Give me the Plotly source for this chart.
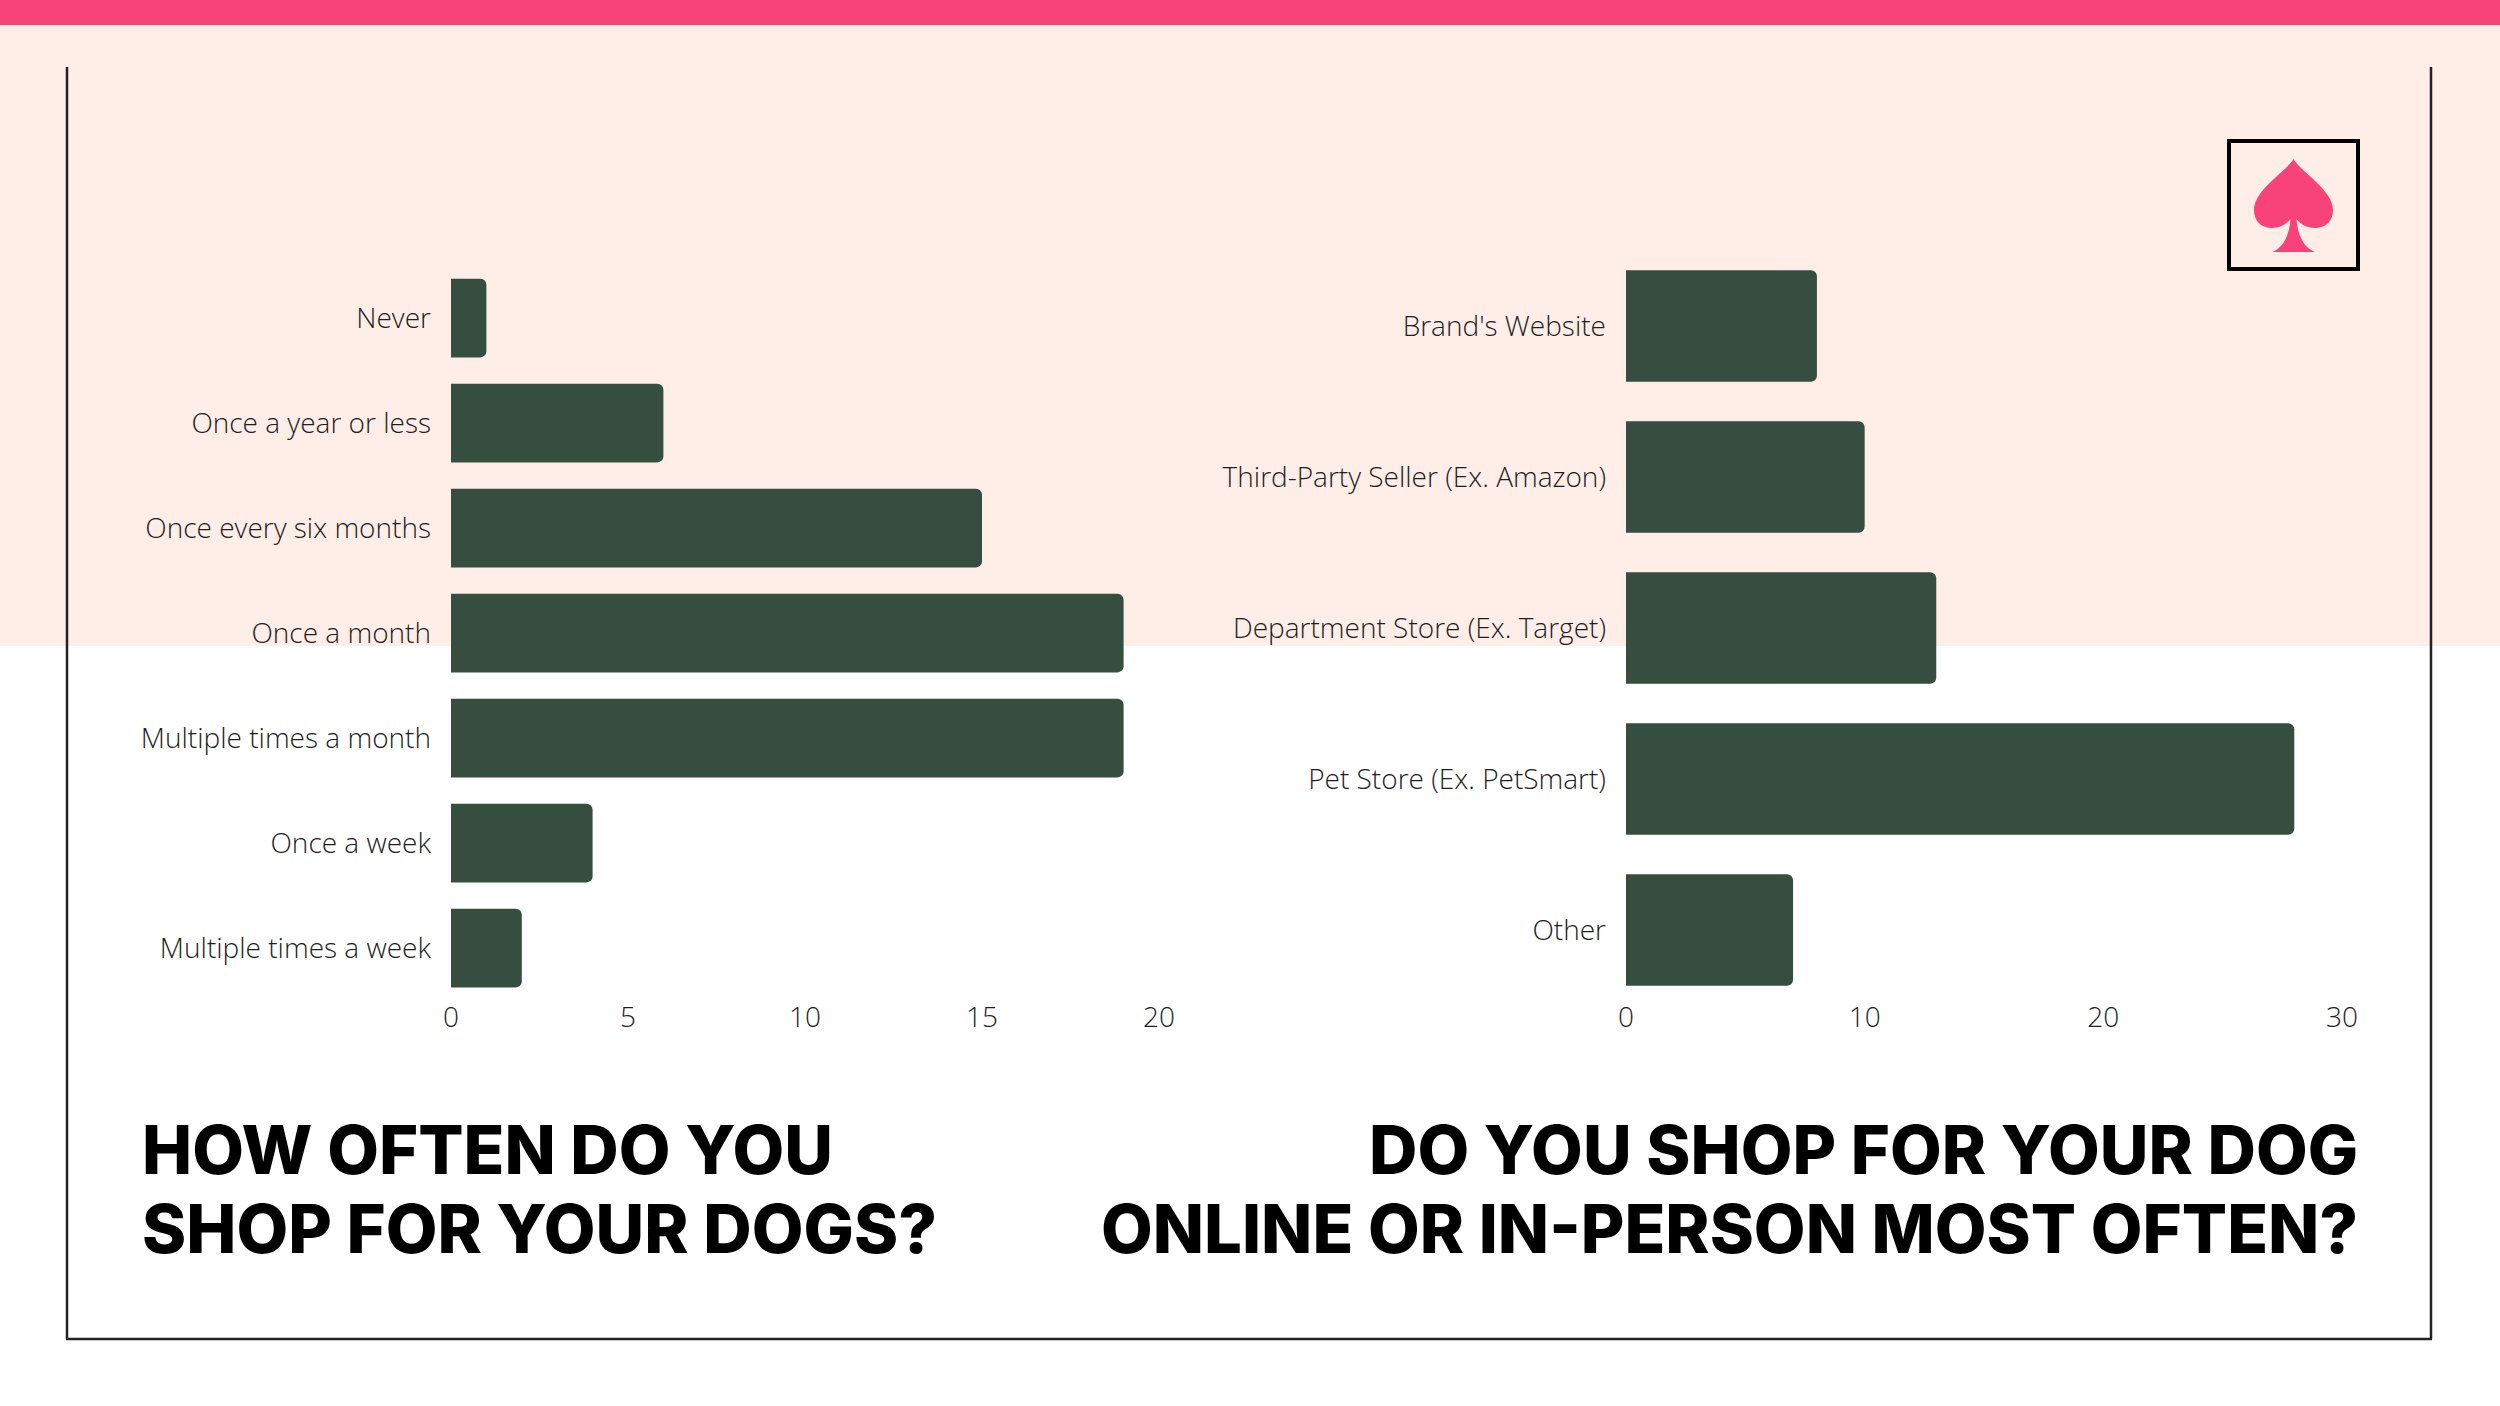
import plotly.graph_objects as go

W, H = 2500, 1406

# ---- data ----
freq_categories = ["Never", "Once a year or less", "Once every six months", "Once a month",
                   "Multiple times a month", "Once a week", "Multiple times a week"]
freq_values = [1, 6, 15, 19, 19, 4, 2]
freq_ticks = [0, 5, 10, 15, 20]

channel_categories = ["Brand's Website", "Third-Party Seller (Ex. Amazon)",
                      "Department Store (Ex. Target)", "Pet Store (Ex. PetSmart)", "Other"]
channel_values = [8, 10, 13, 28, 7]
channel_ticks = [0, 10, 20, 30]

title_left = ["HOW OFTEN DO YOU", "SHOP FOR YOUR DOGS?"]
title_right = ["DO YOU SHOP FOR YOUR DOG", "ONLINE OR IN-PERSON MOST OFTEN?"]

# ---- style ----
BAR = "#364E40"
PINK = "#F8437A"
PEACH = "#FFEEE8"
TXT = "#1e1e1e"
LABEL_FONT = dict(family="Open Sans", size=28, color=TXT, weight=300)
TICK_FONT = dict(family="Open Sans", size=28, color=TXT, weight=300)
TITLE_FONT = dict(family="Inter", size=67, color="#000000", weight=800)


def px(x):
    return x / W


def py(y):
    return 1 - y / H


fig = go.Figure()
fig.add_trace(go.Bar(x=freq_values, y=freq_categories, orientation="h",
                     marker=dict(color=BAR, line=dict(width=0)), width=0.75,
                     xaxis="x", yaxis="y", hoverinfo="x+y"))
fig.add_trace(go.Bar(x=channel_values, y=channel_categories, orientation="h",
                     marker=dict(color=BAR, line=dict(width=0)), width=0.74,
                     xaxis="x2", yaxis="y2", hoverinfo="x+y"))

axis_common = dict(showgrid=False, zeroline=False, showline=False, ticks="",
                   automargin=False, fixedrange=True)

shapes = [
    dict(type="rect", xref="paper", yref="paper", x0=0, x1=1, y0=py(646), y1=py(25),
         fillcolor=PEACH, line=dict(width=0), layer="below"),
    dict(type="rect", xref="paper", yref="paper", x0=0, x1=1, y0=py(25), y1=1,
         fillcolor=PINK, line=dict(width=0), layer="below"),
    # frame
    dict(type="line", xref="paper", yref="paper", x0=px(67), x1=px(67), y0=py(67), y1=py(1339),
         line=dict(color="#222222", width=2.5)),
    dict(type="line", xref="paper", yref="paper", x0=px(2431), x1=px(2431), y0=py(67), y1=py(1339),
         line=dict(color="#222222", width=2.5)),
    dict(type="line", xref="paper", yref="paper", x0=px(66), x1=px(2432), y0=py(1339), y1=py(1339),
         line=dict(color="#222222", width=2.5)),
    # logo box
    dict(type="rect", xref="paper", yref="paper", x0=px(2229), x1=px(2358), y0=py(269), y1=py(141),
         line=dict(color="#000000", width=4), fillcolor="rgba(0,0,0,0)"),
]

# spade path (pixel coords -> paper)
spade = [
    ("M", [(2293.5, 159)]),
    ("C", [(2285, 173), (2254, 190), (2254, 210)]),
    ("C", [(2254, 222), (2262, 228), (2272, 228)]),
    ("C", [(2280, 228), (2287, 224), (2290.5, 219)]),
    ("C", [(2289.5, 235), (2283, 248), (2272, 252)]),
    ("L", [(2315, 252)]),
    ("C", [(2304, 248), (2297.5, 235), (2296.5, 219)]),
    ("C", [(2300, 224), (2307, 228), (2315, 228)]),
    ("C", [(2325, 228), (2333, 222), (2333, 210)]),
    ("C", [(2333, 190), (2302, 173), (2293.5, 159)]),
]
path = ""
for cmd, pts in spade:
    path += cmd + " " + " ".join(f"{px(x):.6f},{py(y):.6f}" for x, y in pts) + " "
path += "Z"
shapes.append(dict(type="path", xref="paper", yref="paper", path=path,
                   fillcolor=PINK, line=dict(width=0)))

annotations = []
for t, yc in zip(title_left, [1149, 1228]):
    annotations.append(dict(text=t, xref="paper", yref="paper", x=px(140), y=py(yc),
                            xanchor="left", yanchor="middle", showarrow=False, font=TITLE_FONT))
for t, yc in zip(title_right, [1149, 1228]):
    annotations.append(dict(text=t, xref="paper", yref="paper", x=px(2360), y=py(yc),
                            xanchor="right", yanchor="middle", showarrow=False, font=TITLE_FONT))

fig.update_layout(
    width=W, height=H,
    margin=dict(l=0, r=0, t=0, b=0),
    paper_bgcolor="#FFFFFF",
    plot_bgcolor="rgba(0,0,0,0)",
    showlegend=False,
    barcornerradius=6,
    xaxis=dict(domain=[px(451), px(1159)], range=[0, 20], tickvals=freq_ticks,
               anchor="y", tickfont=TICK_FONT, ticklabelstandoff=-3, **axis_common),
    yaxis=dict(domain=[py(1000.5), py(265.5)], autorange="reversed", anchor="x",
               categoryorder="array", categoryarray=freq_categories,
               tickfont=LABEL_FONT, ticklabelstandoff=19, **axis_common),
    xaxis2=dict(domain=[px(1626), px(2342)], range=[0, 30], tickvals=channel_ticks,
                anchor="y2", tickfont=TICK_FONT, ticklabelstandoff=-8, **axis_common),
    yaxis2=dict(domain=[py(1005.5), py(250.5)], autorange="reversed", anchor="x2",
                categoryorder="array", categoryarray=channel_categories,
                tickfont=LABEL_FONT, ticklabelstandoff=19, **axis_common),
    shapes=shapes,
    annotations=annotations,
)

fig.write_html("out.html", config={"displayModeBar": False},
               post_script="document.body.style.margin='0';document.body.style.padding='0';")
